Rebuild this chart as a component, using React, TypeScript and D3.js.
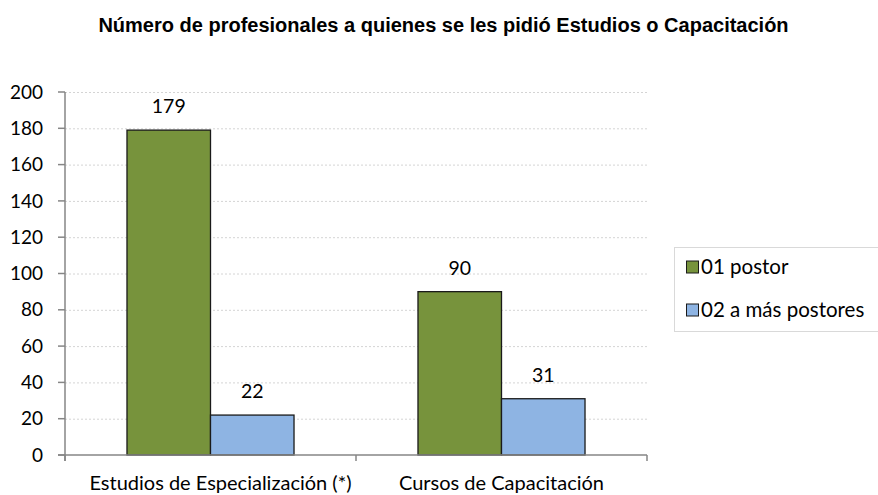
import React, { useRef, useEffect } from 'react';
import * as d3 from 'd3';

const TITLE = 'Número de profesionales a quienes se les pidió Estudios o Capacitación';
const CATEGORIES = ['Estudios de Especialización (*)', 'Cursos de Capacitación'];
const SERIES = ['01 postor', '02 a más postores'];
const VALUES_01 = [179, 90];
const VALUES_02 = [22, 31];
const Y_TICKS = [0, 20, 40, 60, 80, 100, 120, 140, 160, 180, 200];

const COLORS = ['#77933C', '#8EB4E3'];
const LABEL_FONT = 'Lato, "Open Sans", sans-serif';

const W = 878;
const H = 495;
const M = { left: 65, right: 647, top: 92, bottom: 455 };

export default function App() {
  const svgRef = useRef<SVGSVGElement | null>(null);

  useEffect(() => {
    if (!svgRef.current) return;
    const svg = d3.select(svgRef.current);
    svg.selectAll('*').remove();

    svg.append('rect').attr('width', W).attr('height', H).attr('fill', '#fff');

    const y = d3.scaleLinear().domain([0, 200]).range([M.bottom, M.top]);
    const x0 = d3.scaleBand().domain(CATEGORIES).range([M.left, M.right]).paddingInner(0).paddingOuter(0);
    // the bar pair takes ~57% of each band
    const groupW = x0.bandwidth() * 0.574;
    const x1 = d3.scaleBand().domain(SERIES).range([0, groupW]);
    const groupOffset = (x0.bandwidth() - groupW) / 2;

    // title
    svg.append('text')
      .attr('x', 443.5)
      .attr('y', 32)
      .attr('text-anchor', 'middle')
      .style('font-family', '"Liberation Sans", Arial, sans-serif')
      .style('font-weight', 'bold')
      .style('font-size', '20px')
      .style('fill', '#000')
      .text(TITLE);

    // dotted gridlines
    svg.append('g')
      .selectAll('line')
      .data(Y_TICKS.filter(t => t > 0))
      .enter()
      .append('line')
      .attr('x1', M.left)
      .attr('x2', M.right)
      .attr('y1', d => y(d) + 0.5)
      .attr('y2', d => y(d) + 0.5)
      .attr('stroke', '#d4d4d4')
      .attr('stroke-width', 1)
      .attr('stroke-dasharray', '2,2');

    // bars + value labels
    const seriesVals = [VALUES_01, VALUES_02];
    const barsG = svg.append('g');
    CATEGORIES.forEach((cat, ci) => {
      SERIES.forEach((s, si) => {
        const v = seriesVals[si][ci];
        const bx = (x0(cat) as number) + groupOffset + (x1(s) as number);
        barsG.append('rect')
          .attr('x', bx)
          .attr('y', y(v))
          .attr('width', x1.bandwidth())
          .attr('height', y(0) - y(v))
          .attr('fill', COLORS[si])
          .attr('stroke', '#1a1a1a')
          .attr('stroke-width', 1.3);

        svg.append('text')
          .attr('x', bx + x1.bandwidth() / 2)
          .attr('y', y(v) - 17)
          .attr('text-anchor', 'middle')
          .style('font-family', LABEL_FONT)
          .style('font-size', '19.5px')
          .style('fill', '#000')
          .text(v);
      });
    });

    // axes
    const axisColor = '#868686';
    svg.append('line')
      .attr('x1', M.left).attr('x2', M.left)
      .attr('y1', M.top).attr('y2', M.bottom + 6)
      .attr('stroke', axisColor).attr('stroke-width', 1.5);
    svg.append('line')
      .attr('x1', M.left - 7).attr('x2', M.right)
      .attr('y1', M.bottom).attr('y2', M.bottom)
      .attr('stroke', axisColor).attr('stroke-width', 1.5);

    // y ticks + labels
    const yt = svg.append('g');
    Y_TICKS.forEach(t => {
      yt.append('line')
        .attr('x1', M.left - 7).attr('x2', M.left)
        .attr('y1', y(t)).attr('y2', y(t))
        .attr('stroke', axisColor).attr('stroke-width', 1.5);
      yt.append('text')
        .attr('x', 43)
        .attr('y', y(t))
        .attr('dy', '0.35em')
        .attr('text-anchor', 'end')
        .style('font-family', LABEL_FONT)
        .style('font-size', '19px')
        .style('fill', '#000')
        .text(t);
    });

    // x ticks sit on the band edges
    const xTickPos = [M.left, ...CATEGORIES.map(c => (x0(c) as number) + x0.bandwidth())];
    xTickPos.forEach(px => {
      svg.append('line')
        .attr('x1', px).attr('x2', px)
        .attr('y1', M.bottom).attr('y2', M.bottom + 6)
        .attr('stroke', axisColor).attr('stroke-width', 1.5);
    });

    const catShift = [10, 0]; // first label sits a little right of its band centre
    CATEGORIES.forEach((cat, i) => {
      svg.append('text')
        .attr('x', (x0(cat) as number) + x0.bandwidth() / 2 + catShift[i])
        .attr('y', 490)
        .attr('text-anchor', 'middle')
        .style('font-family', LABEL_FONT)
        .style('font-size', '20px')
        .style('fill', '#000')
        .text(cat);
    });

    // legend
    const lg = svg.append('g');
    lg.append('rect')
      .attr('x', 674.5).attr('y', 247.5)
      .attr('width', 240).attr('height', 84)
      .attr('fill', '#fff')
      .attr('stroke', '#d9d9d9')
      .attr('stroke-width', 1);
    SERIES.forEach((s, i) => {
      const cy = 267 + i * 43;
      lg.append('rect')
        .attr('x', 686.5).attr('y', cy - 6)
        .attr('width', 12).attr('height', 12)
        .attr('fill', COLORS[i])
        .attr('stroke', '#1a1a1a')
        .attr('stroke-width', 1);
      lg.append('text')
        .attr('x', 701)
        .attr('y', cy)
        .attr('dy', '0.35em')
        .style('font-family', LABEL_FONT)
        .style('font-size', '20.5px')
        .style('fill', '#000')
        .text(s);
    });
  }, []);

  return (
    <svg
      ref={svgRef}
      width={W}
      height={H}
      style={{ position: 'absolute', left: 0, top: 0, display: 'block' }}
    />
  );
}
